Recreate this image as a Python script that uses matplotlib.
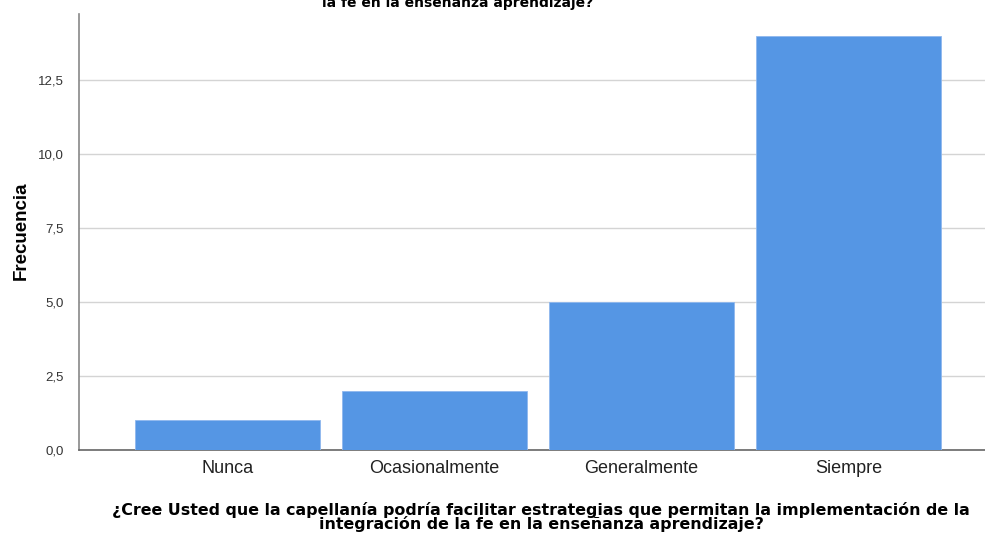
import matplotlib.pyplot as plt
from matplotlib.ticker import FuncFormatter

# categories and frequencies
categorias = ["Nunca", "Ocasionalmente", "Generalmente", "Siempre"]
frecuencias = [1, 2, 5, 14]
yticks = [0, 2.5, 5, 7.5, 10, 12.5]

pregunta = ("¿Cree Usted que la capellanía podría facilitar estrategias que permitan la implementación de la\n"
            "integración de la fe en la enseñanza aprendizaje?")
titulo = ("¿Cree Usted que la capellanía podría facilitar estrategias que permitan la implementación de la integración de\n"
          "la fe en la enseñanza aprendizaje?")

plt.rcParams['font.family'] = ['Liberation Sans', 'DejaVu Sans']

W, H = 985, 535
fig = plt.figure(figsize=(W / 100, H / 100), dpi=100)
ax = fig.add_axes([79 / W, (H - 450) / H, (W - 79) / W, (450 - 14) / H])

x = list(range(len(categorias)))
ax.bar(x, frecuencias, width=0.894, color="#5596e4", edgecolor="#8fb8ee", linewidth=0.6, zorder=3)

ax.set_xlim(-0.717, 3.659)
ax.set_ylim(0, 14.73)
ax.set_yticks(yticks)
ax.yaxis.set_major_formatter(FuncFormatter(lambda v, p: f"{v:.1f}".replace(".", ",")))
ax.set_xticks(x)
ax.set_xticklabels(categorias, fontsize=13, color="#222222")
ax.tick_params(axis='y', length=0, labelsize=9.5, pad=11, colors="#333333")
ax.tick_params(axis='x', length=0, pad=7)
ax.grid(axis='y', color="#d4d4d4", linewidth=1, zorder=0)

for s in ['top', 'right']:
    ax.spines[s].set_visible(False)
ax.spines['left'].set_color("#888888")
ax.spines['bottom'].set_color("#666666")
ax.spines['left'].set_linewidth(1.2)
ax.spines['bottom'].set_linewidth(1.2)

ax.set_ylabel("Frecuencia", fontsize=13.5, fontweight='bold')
ax.yaxis.set_label_coords(-49 / (W - 79), (450 - 231) / (450 - 14))
fig.text(541 / W, 1 - 532 / H, pregunta, ha='center', va='bottom', fontsize=11.4,
         fontweight='bold', family='DejaVu Sans', linespacing=0.88)
fig.text(458 / W, 1 - 10 / H, titulo, ha='center', va='bottom', fontsize=10,
         fontweight='bold', family='DejaVu Sans', linespacing=0.95)

fig.savefig("out.png", dpi=100)
